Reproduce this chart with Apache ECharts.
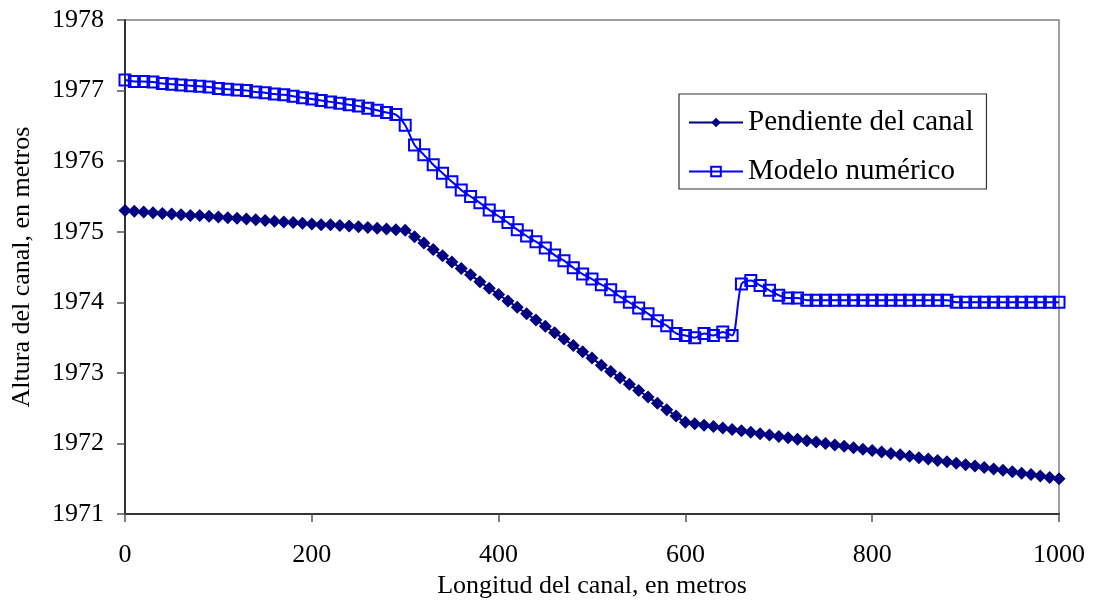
<!DOCTYPE html>
<html>
<head>
<meta charset="utf-8">
<script src="https://cdn.jsdelivr.net/npm/echarts@6/dist/echarts.min.js"></script>
<style>
html,body{margin:0;padding:0;background:#fff;}
#chart{width:1094px;height:604px;}
</style>
</head>
<body>
<div id="chart"></div>
<script>
// Distance along the canal (m)
var distances = [0,10,20,30,40,50,60,70,80,90,100,110,120,130,140,150,160,170,180,190,200,
  210,220,230,240,250,260,270,280,290,300,310,320,330,340,350,360,370,380,390,400,
  410,420,430,440,450,460,470,480,490,500,510,520,530,540,550,560,570,580,590,600,
  610,620,630,640,650,660,670,680,690,700,710,720,730,740,750,760,770,780,790,800,
  810,820,830,840,850,860,870,880,890,900,910,920,930,940,950,960,970,980,990,1000];

// Pendiente del canal (m)
var pendiente = [1975.30,1975.29,1975.28,1975.27,1975.26,1975.25,1975.24,1975.23,1975.23,1975.22,1975.21,
  1975.20,1975.19,1975.18,1975.17,1975.16,1975.15,1975.14,1975.13,1975.12,1975.11,
  1975.10,1975.10,1975.09,1975.08,1975.07,1975.06,1975.05,1975.04,1975.03,1975.02,
  1974.93,1974.84,1974.75,1974.66,1974.57,1974.48,1974.39,1974.29,1974.20,1974.11,
  1974.02,1973.93,1973.84,1973.75,1973.66,1973.57,1973.48,1973.39,1973.30,1973.21,
  1973.11,1973.02,1972.93,1972.84,1972.75,1972.66,1972.57,1972.48,1972.39,1972.30,
  1972.28,1972.26,1972.24,1972.22,1972.20,1972.18,1972.16,1972.14,1972.12,1972.10,
  1972.08,1972.06,1972.04,1972.02,1972.00,1971.98,1971.96,1971.94,1971.92,1971.90,
  1971.88,1971.86,1971.84,1971.82,1971.80,1971.78,1971.76,1971.74,1971.72,1971.70,
  1971.68,1971.66,1971.64,1971.62,1971.60,1971.58,1971.56,1971.54,1971.52,1971.50];

// Modelo numérico (m)
var modelo = [1977.15,1977.13,1977.13,1977.12,1977.10,1977.09,1977.08,1977.07,1977.06,1977.05,1977.03,
  1977.02,1977.01,1977.00,1976.98,1976.97,1976.95,1976.94,1976.92,1976.90,1976.88,
  1976.86,1976.84,1976.82,1976.80,1976.78,1976.75,1976.72,1976.69,1976.66,1976.51,
  1976.23,1976.09,1975.95,1975.83,1975.71,1975.59,1975.50,1975.41,1975.31,1975.22,
  1975.13,1975.03,1974.94,1974.86,1974.77,1974.67,1974.59,1974.49,1974.40,1974.33,
  1974.25,1974.18,1974.08,1974.00,1973.92,1973.84,1973.74,1973.67,1973.56,1973.53,
  1973.50,1973.56,1973.53,1973.58,1973.53,1974.26,1974.31,1974.24,1974.17,1974.10,
  1974.06,1974.06,1974.03,1974.03,1974.03,1974.03,1974.03,1974.03,1974.03,1974.03,
  1974.03,1974.03,1974.03,1974.03,1974.03,1974.03,1974.03,1974.03,1974.00,1974.00,
  1974.00,1974.00,1974.00,1974.00,1974.00,1974.00,1974.00,1974.00,1974.00,1974.00];

var seriesNames = ['Pendiente del canal', 'Modelo numérico'];
var xTicks = [0, 200, 400, 600, 800, 1000];
var yTicks = [1971, 1972, 1973, 1974, 1975, 1976, 1977, 1978];

function pairs(xs, ys){ return xs.map(function(x, i){ return [x, ys[i]]; }); }

var FONT = 'Liberation Serif';
var chart = echarts.init(document.getElementById('chart'), null, {renderer:'canvas'});
chart.setOption({
  backgroundColor: '#ffffff',
  animation: false,
  grid: {left:125, right:35, top:20, bottom:85.5, show:true, borderColor:'#808080', borderWidth:1.5, backgroundColor:'transparent'},
  legend: {
    orient:'vertical', left:679, top:94,
    padding:[14, 13, 3, 9], itemGap:20, itemWidth:54, itemHeight:12,
    borderColor:'#333', borderWidth:1.2, backgroundColor:'#fff',
    textStyle:{fontFamily:FONT, fontSize:29, color:'#000'},
    data: seriesNames
  },
  xAxis: {
    type:'value', min:xTicks[0], max:xTicks[xTicks.length-1], interval:200,
    name:'Longitud del canal, en metros', nameLocation:'middle', nameGap:55,
    nameTextStyle:{fontFamily:FONT, fontSize:26, color:'#000'},
    axisLine:{show:true, onZero:false, lineStyle:{color:'#333', width:2}},
    axisTick:{show:true, inside:false, length:8, lineStyle:{color:'#555', width:1.5}},
    axisLabel:{margin:28, fontFamily:FONT, fontSize:26, color:'#000', formatter:function(v){return String(v);}},
    splitLine:{show:false}
  },
  yAxis: {
    type:'value', min:yTicks[0], max:yTicks[yTicks.length-1], interval:1,
    name:'Altura del canal, en metros', nameLocation:'middle', nameGap:90,
    nameTextStyle:{fontFamily:FONT, fontSize:26, color:'#000'},
    axisLine:{show:true, onZero:false, lineStyle:{color:'#333', width:2}},
    axisTick:{show:true, inside:false, length:8, lineStyle:{color:'#555', width:1.5}},
    axisLabel:{margin:21, fontFamily:FONT, fontSize:26, color:'#000', formatter:function(v){return String(v);}},
    splitLine:{show:false}
  },
  series: [
    {
      name: seriesNames[0], type:'line', smooth:0.3,
      data: pairs(distances, pendiente),
      symbol:'diamond', symbolSize:13, showAllSymbol:true,
      lineStyle:{color:'#000080', width:2},
      itemStyle:{color:'#000080', borderColor:'#000080', borderWidth:0}
    },
    {
      name: seriesNames[1], type:'line', smooth:0.3,
      data: pairs(distances, modelo),
      symbol:'rect', symbolSize:11, showAllSymbol:true,
      lineStyle:{color:'#0000FF', width:2},
      itemStyle:{color:'rgba(255,255,255,0)', borderColor:'#0000FF', borderWidth:2}
    }
  ]
});
</script>
</body>
</html>
